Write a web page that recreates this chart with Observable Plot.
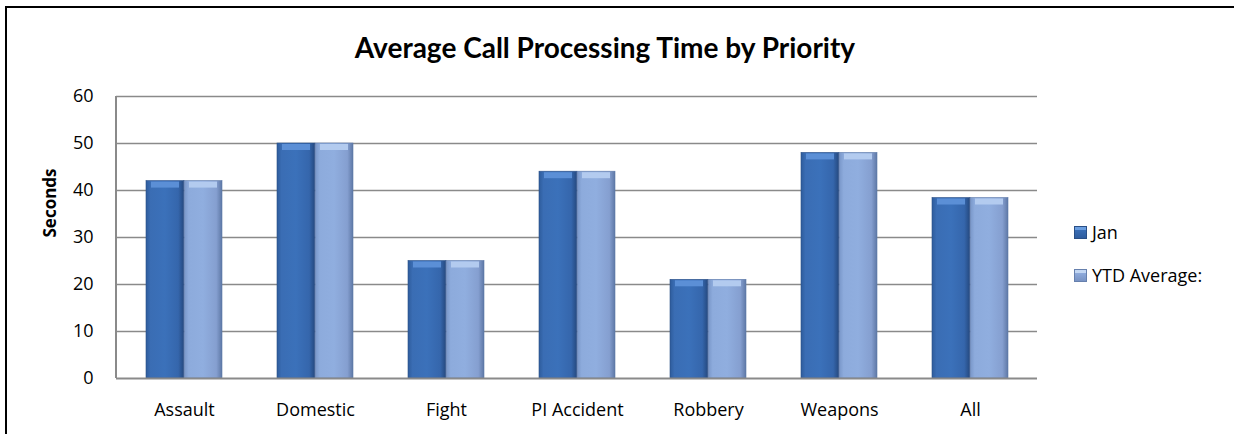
<!DOCTYPE html>
<html>
<head>
<meta charset="utf-8">
<script src="https://cdn.jsdelivr.net/npm/d3@7"></script>
<script src="https://cdn.jsdelivr.net/npm/@observablehq/plot@0.6"></script>
<style>
  html, body { margin: 0; padding: 0; background: #fff; overflow: hidden; width: 1234px; height: 434px; }
  #wrap { position: relative; width: 1234px; height: 434px; overflow: hidden; font-family: "Open Sans", Lato, sans-serif; }
  #frameL { position: absolute; left: 5px; top: 6px; width: 2px; height: 440px; background: #000; }
  #frameT { position: absolute; left: 5px; top: 6px; width: 1240px; height: 2px; background: #000; }
  #title { position: absolute; left: 0; top: 0; width: 1210px; height: 70px; line-height: 94px; text-align: center; font-family: Lato, sans-serif; font-weight: bold; font-size: 28px; color: #000; white-space: nowrap; }
  #chart { position: absolute; left: 0; top: 70px; }
  #legend { position: absolute; left: 1074px; top: 221px; font-size: 18px; color: #000; }
  .item { display: flex; align-items: center; height: 22px; margin-bottom: 21px; white-space: nowrap; }
  .sw { width: 13px; height: 13px; margin-right: 5px; box-sizing: border-box; }
</style>
</head>
<body>
<div id="wrap">
  <div id="frameL"></div>
  <div id="frameT"></div>
  <div id="title">Average Call Processing Time by Priority</div>
  <div id="chart"></div>
  <div id="legend"></div>
</div>
<script>
const categories = ["Assault", "Domestic", "Fight", "PI Accident", "Robbery", "Weapons", "All"];
const janValues = [42, 50, 25, 44, 21, 48, 38.4];
const ytdValues = [42, 50, 25, 44, 21, 48, 38.4];
const seriesNames = ["Jan", "YTD Average:"];
const yTicks = [0, 10, 20, 30, 40, 50, 60];

const janRows = categories.map((c, i) => ({category: c, value: janValues[i]}));
const ytdRows = categories.map((c, i) => ({category: c, value: ytdValues[i]}));

const chart = Plot.plot({
  width: 1060,
  height: 364,
  marginLeft: 116,
  marginRight: 23,
  marginTop: 26,
  marginBottom: 56,
  style: {fontFamily: "'Open Sans', Lato, sans-serif", fontSize: "18px", color: "#000", background: "transparent", overflow: "visible"},
  x: {domain: categories, paddingInner: 0.42, paddingOuter: 0.21, label: null},
  y: {domain: [0, 60], label: null},
  marks: [
    Plot.ruleY(yTicks.filter(d => d > 0), {stroke: "#8a8a8a", strokeWidth: 1.5}),
    Plot.barY(janRows, {x: "category", y: "value", fill: "url(#gJan)", insetRight: 38.15, stroke: "#2a4f86", strokeWidth: 0.6}),
    Plot.barY(ytdRows, {x: "category", y: "value", fill: "url(#gYtd)", insetLeft: 38.15, stroke: "#5d79a8", strokeWidth: 0.6}),
    Plot.tickY(janRows, {x: "category", y: "value", stroke: "#5b8fd6", strokeWidth: 6, dy: 3.5, insetRight: 43, insetLeft: 5}),
    Plot.tickY(ytdRows, {x: "category", y: "value", stroke: "#b3cbef", strokeWidth: 6, dy: 3.5, insetLeft: 43, insetRight: 5}),
    Plot.ruleY([0], {stroke: "#8a8a8a", strokeWidth: 2}),
    Plot.axisY(yTicks, {tickSize: 0, tickPadding: 23, label: null, fontSize: 18}),
    Plot.axisX({tickSize: 0, tickPadding: 25, label: null, fontSize: 18}),
    Plot.text(["Seconds"], {frameAnchor: "left", rotate: -90, dx: -66, fontWeight: "bold", fontSize: 17})
  ]
});

// left axis line
const svg = d3.select(chart);
svg.append("line")
  .attr("x1", 116).attr("x2", 116).attr("y1", 26).attr("y2", 308)
  .attr("stroke", "#8a8a8a").attr("stroke-width", 2);

const defs = svg.insert("defs", ":first-child");
function grad(id, stops) {
  const g = defs.append("linearGradient").attr("id", id).attr("x1", "0").attr("x2", "1").attr("y1", "0").attr("y2", "0");
  stops.forEach(([o, c]) => g.append("stop").attr("offset", o).attr("stop-color", c));
}
grad("gJan", [[0, "#2e5c9c"], [0.12, "#3a6db4"], [0.5, "#3b71ba"], [0.85, "#3566ac"], [1, "#25497f"]]);
grad("gYtd", [[0, "#7896c8"], [0.12, "#8dabdc"], [0.5, "#90aedf"], [0.85, "#859fd0"], [1, "#5e78a6"]]);

document.getElementById("chart").appendChild(chart);

const legend = d3.select("#legend");
const swatches = [
  "linear-gradient(180deg, #6a9ee0 0%, #6a9ee0 25%, #3a6db4 30%, #2f5d9f 100%)",
  "linear-gradient(180deg, #c3d7f3 0%, #c3d7f3 25%, #8eaadb 30%, #7893c4 100%)"
];
seriesNames.forEach((name, i) => {
  const it = legend.append("div").attr("class", "item");
  it.append("div").attr("class", "sw").style("background", swatches[i]).style("border", "1px solid " + (i ? "#6680ad" : "#2a4f86"));
  it.append("span").text(name);
});
</script>
</body>
</html>
